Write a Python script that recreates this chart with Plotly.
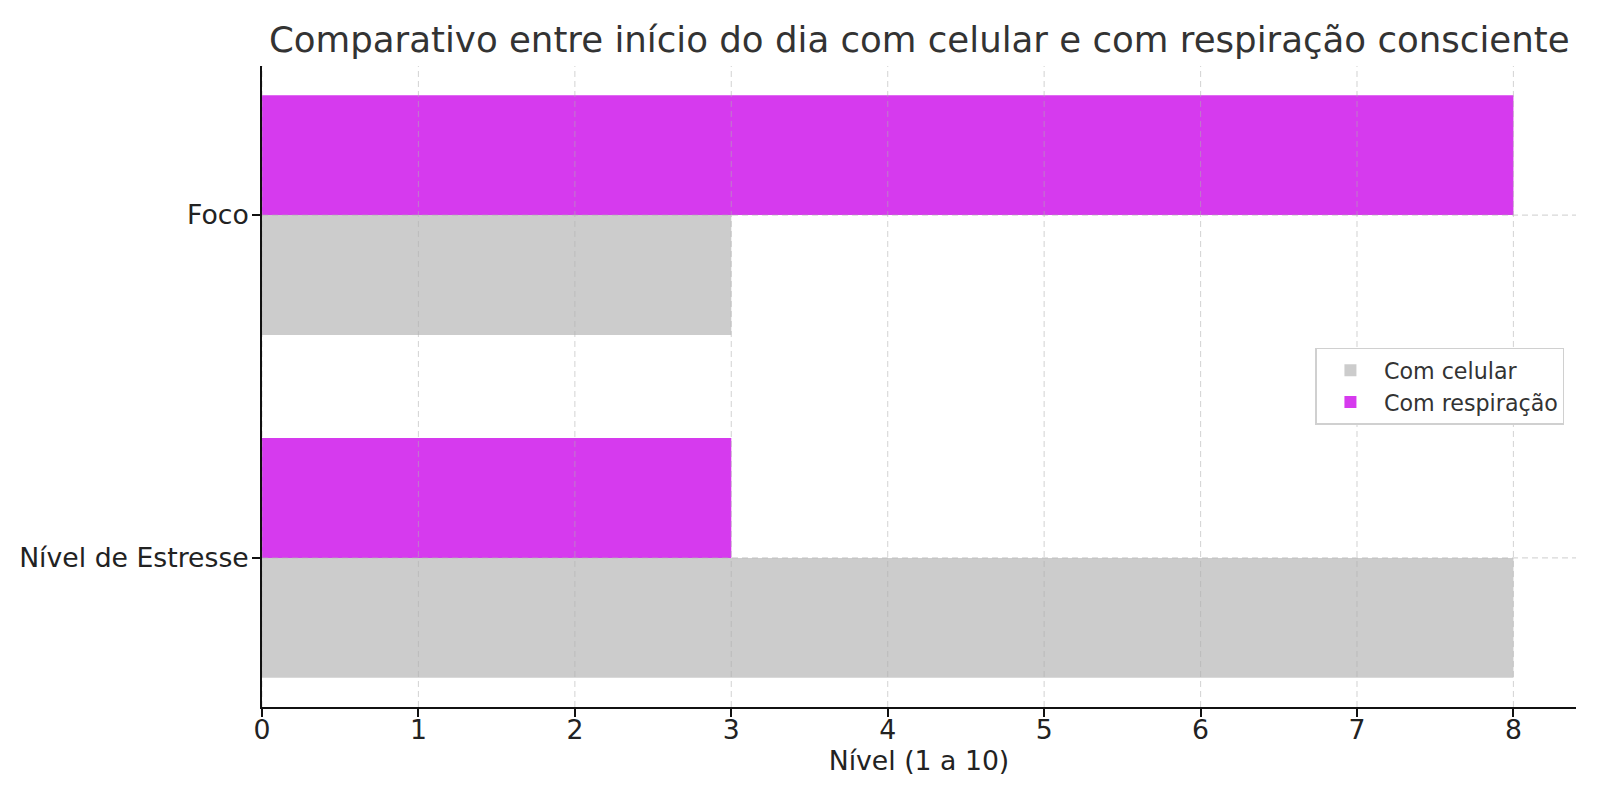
import plotly.graph_objects as go

categories = ["Nível de Estresse", "Foco"]
com_celular = [8, 3]
com_respiracao = [3, 8]
x_ticks = [0, 1, 2, 3, 4, 5, 6, 7, 8]

title_text = "Comparativo entre início do dia com celular e com respiração consciente"
x_title = "Nível (1 a 10)"

FONT = "DejaVu Sans"
# page body has an 8px margin, so the figure is 16px smaller than the window
W, H = 1584, 784
L, R, T, B = 254, 15.5, 58.3, 85.3

fig = go.Figure()
fig.add_trace(go.Bar(
    y=categories, x=com_celular, orientation="h", name="Com celular",
    marker=dict(color="#cccccc", line=dict(width=0)),
))
fig.add_trace(go.Bar(
    y=categories, x=com_respiracao, orientation="h", name="Com respiração",
    marker=dict(color="#d63aee", line=dict(width=0)),
))

grid_color = "rgba(176,176,176,0.5)"
grid_dash = "6px,4px"

# gridlines drawn above the bars (as in the reference), at the axis tick positions
for v in x_ticks:
    fig.add_shape(type="line", xref="x", yref="paper", x0=v, x1=v, y0=0, y1=1,
                  line=dict(color=grid_color, width=1.1, dash=grid_dash), layer="above")
for c in categories:
    fig.add_shape(type="line", xref="paper", yref="y", x0=0, x1=1, y0=c, y1=c,
                  line=dict(color=grid_color, width=1.1, dash=grid_dash), layer="above")

fig.update_layout(
    width=W, height=H,
    margin=dict(l=L, r=R, t=T, b=B, autoexpand=False),
    paper_bgcolor="white", plot_bgcolor="white",
    barmode="group", bargap=0.3, bargroupgap=0,
    font=dict(family=FONT, color="#222222", size=26.7),
    title=dict(
        text=title_text, x=(L + (W - R)) / 2 / W, xanchor="center",
        y=1 - 32 / H, yanchor="middle", yref="container",
        font=dict(family=FONT, size=35.6, color="#333333"),
    ),
    legend=dict(
        x=0.9912, xanchor="right", y=0.5003, yanchor="middle",
        bgcolor="white", bordercolor="#d0d0d0", borderwidth=1.5,
        font=dict(family=FONT, size=22.2, color="#333333"),
        traceorder="normal", itemwidth=57,
    ),
    showlegend=True,
)

fig.update_xaxes(
    range=[0, 8.40], tickvals=x_ticks, ticktext=[str(v) for v in x_ticks],
    showline=True, linecolor="#111111", linewidth=1.8, mirror=False,
    ticks="outside", ticklen=8, tickwidth=1.8, tickcolor="#111111",
    ticklabelstandoff=-10,
    showgrid=False, zeroline=False, layer="above traces",
    title=dict(text=x_title, font=dict(family=FONT, size=26.7, color="#222222"), standoff=7),
    tickfont=dict(family=FONT, size=26.7, color="#222222"),
)
fig.update_yaxes(
    type="category", categoryorder="array", categoryarray=categories,
    range=[-0.435, 1.435],
    showline=True, linecolor="#111111", linewidth=1.8, mirror=False,
    ticks="outside", ticklen=8, tickwidth=1.8, tickcolor="#111111",
    ticklabelstandoff=-2,
    showgrid=False, zeroline=False, layer="above traces",
    tickfont=dict(family=FONT, size=26.7, color="#222222"),
)

fig.write_html("out.html")
